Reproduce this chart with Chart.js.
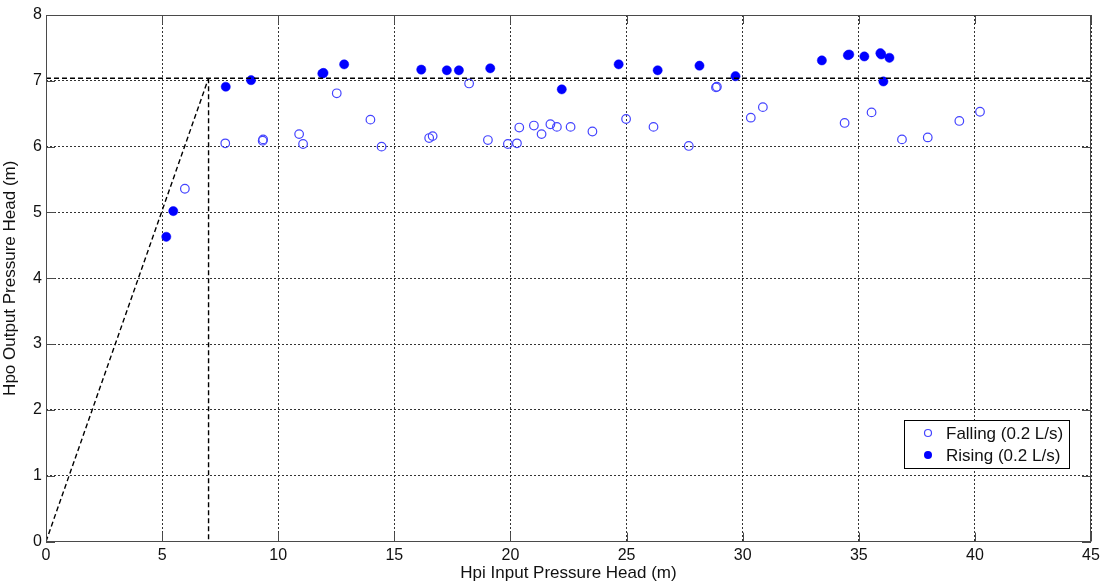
<!DOCTYPE html>
<html>
<head>
<meta charset="utf-8">
<title>Hpo vs Hpi</title>
<script src="https://cdn.jsdelivr.net/npm/chart.js@4.4.1/dist/chart.umd.min.js"></script>
<style>
  html, body { margin: 0; padding: 0; background: #fff; }
  #wrap { width: 1108px; height: 585px; position: relative; }
</style>
</head>
<body>
<div id="wrap"><canvas id="pressureChart"></canvas></div>
<script>
// Falling runs (0.2 L/s)
const fallingHpi = [5.98, 7.72, 9.33, 9.35, 10.90, 11.07, 12.52, 13.97, 14.45, 16.50, 16.65, 18.22,
  19.03, 19.89, 20.28, 20.38, 21.01, 21.34, 21.72, 22.00, 22.59, 23.53, 24.98, 26.16, 27.68,
  28.85, 28.89, 30.35, 30.87, 34.39, 35.55, 36.86, 37.97, 39.33, 40.22];
const fallingHpo = [5.36, 6.05, 6.09, 6.11, 6.19, 6.04, 6.81, 6.41, 6.00, 6.13, 6.16, 6.96,
  6.10, 6.04, 6.05, 6.29, 6.32, 6.19, 6.34, 6.30, 6.30, 6.23, 6.42, 6.30, 6.01,
  6.90, 6.91, 6.44, 6.60, 6.36, 6.52, 6.11, 6.14, 6.39, 6.53];

// Rising runs (0.2 L/s)
const risingHpi = [5.18, 5.48, 7.74, 8.83, 11.90, 11.95, 12.84, 16.16, 17.26, 17.78, 19.13, 22.21,
  24.66, 26.34, 28.14, 29.69, 33.41, 34.53, 34.59, 35.24, 35.93, 35.97, 36.06, 36.32];
const risingHpo = [4.63, 5.02, 6.91, 7.01, 7.11, 7.12, 7.25, 7.17, 7.16, 7.16, 7.19, 6.87,
  7.25, 7.16, 7.23, 7.07, 7.31, 7.39, 7.40, 7.37, 7.42, 7.40, 6.99, 7.35];

// PRV set point and the ideal Hpo = Hpi response below it
const setPointHpi = 7;
const setPointHpo = 7.04;
const hpiRange = [0, 45];
const hpoRange = [0, 8];
const xTickStep = 5;
const yTickStep = 1;

const FONT = "'Liberation Sans', Arial, sans-serif";

function toPoints(xs, ys) {
  return xs.map((x, i) => ({ x: x, y: ys[i] }));
}

const refLine = {
  type: 'line',
  showLine: true,
  pointRadius: 0,
  borderColor: '#000',
  borderWidth: 1.4,
  borderDash: [5, 3],
  fill: false,
  inLegend: false
};

// Draws the closed axes box, inward tick marks and the boxed legend
const axesBox = {
  id: 'axesBox',
  afterDraw(chart) {
    const { ctx, chartArea: a, scales } = chart;
    const xs = scales.x, ys = scales.y;
    ctx.save();
    ctx.strokeStyle = '#4a4a4a';
    ctx.lineWidth = 1;
    ctx.strokeRect(Math.round(a.left) + 0.5, Math.round(a.top) + 0.5,
      Math.round(a.width) - 1, Math.round(a.height) - 1);

    const tl = 9;
    ctx.beginPath();
    xs.ticks.forEach(t => {
      const px = Math.round(xs.getPixelForValue(t.value)) + 0.5;
      ctx.moveTo(px, a.bottom); ctx.lineTo(px, a.bottom - tl);
      ctx.moveTo(px, a.top); ctx.lineTo(px, a.top + tl);
    });
    ys.ticks.forEach(t => {
      const py = Math.round(ys.getPixelForValue(t.value)) + 0.5;
      ctx.moveTo(a.left, py); ctx.lineTo(a.left + tl, py);
      ctx.moveTo(a.right, py); ctx.lineTo(a.right - tl, py);
    });
    ctx.stroke();

    // legend inside the lower right corner
    const items = chart.data.datasets.filter(d => d.inLegend);
    ctx.font = '17px ' + FONT;
    const textW = Math.max(...items.map(d => ctx.measureText(d.label).width));
    const rowH = 22;
    const boxW = Math.round(42 + textW + 6);
    const boxH = items.length * rowH + 4;
    const bx = Math.round(a.right - 22 - boxW);
    const by = Math.round(a.bottom - 74 - boxH);
    ctx.fillStyle = '#fff';
    ctx.fillRect(bx, by, boxW, boxH);
    ctx.strokeStyle = '#000';
    ctx.strokeRect(bx + 0.5, by + 0.5, boxW, boxH);
    items.forEach((d, i) => {
      const cy = by + 13 + i * rowH;
      ctx.beginPath();
      ctx.arc(bx + 24, cy, d.legendRadius, 0, Math.PI * 2);
      if (d.filled) {
        ctx.fillStyle = d.backgroundColor;
        ctx.fill();
      } else {
        ctx.strokeStyle = d.borderColor;
        ctx.lineWidth = 1.2;
        ctx.stroke();
      }
      ctx.fillStyle = '#111';
      ctx.textBaseline = 'middle';
      ctx.textAlign = 'left';
      ctx.fillText(d.label, bx + 42, cy + 1);
    });
    ctx.restore();
  }
};

new Chart(document.getElementById('pressureChart'), {
  type: 'scatter',
  data: {
    datasets: [
      Object.assign({}, refLine, {
        label: 'Hpo = Hpi',
        data: toPoints([0, setPointHpi], [0, setPointHpo])
      }),
      Object.assign({}, refLine, {
        label: 'Set point Hpi',
        data: toPoints([setPointHpi, setPointHpi], [setPointHpo, 0])
      }),
      Object.assign({}, refLine, {
        label: 'Set point Hpo',
        data: toPoints(hpiRange, [setPointHpo, setPointHpo])
      }),
      {
        label: 'Falling (0.2 L/s)',
        data: toPoints(fallingHpi, fallingHpo),
        pointStyle: 'circle',
        pointRadius: 4.3,
        borderWidth: 1.2,
        borderColor: '#4545ff',
        backgroundColor: 'rgba(0,0,0,0)',
        inLegend: true,
        filled: false,
        legendRadius: 3.5
      },
      {
        label: 'Rising (0.2 L/s)',
        data: toPoints(risingHpi, risingHpo),
        pointStyle: 'circle',
        pointRadius: 4.6,
        borderWidth: 0.5,
        borderColor: '#0000ff',
        backgroundColor: '#0000ff',
        inLegend: true,
        filled: true,
        legendRadius: 4
      }
    ]
  },
  options: {
    responsive: true,
    maintainAspectRatio: false,
    animation: false,
    events: [],
    layout: { padding: { top: 15, right: 17, left: 0, bottom: 0 } },
    plugins: {
      legend: { display: false },
      tooltip: { enabled: false },
      title: { display: false }
    },
    scales: {
      x: {
        type: 'linear',
        min: hpiRange[0],
        max: hpiRange[1],
        afterFit: s => { s.height = 43.5; },
        ticks: {
          stepSize: xTickStep,
          color: '#111',
          padding: 4,
          maxRotation: 0,
          font: { family: FONT, size: 16 }
        },
        grid: { color: '#333', drawTicks: false, lineWidth: 1 },
        border: { display: false, dash: [2, 2] },
        title: {
          display: true,
          text: 'Hpi Input Pressure Head (m)',
          color: '#111',
          padding: { top: 0, bottom: 1 },
          font: { family: FONT, size: 17 }
        }
      },
      y: {
        type: 'linear',
        min: hpoRange[0],
        max: hpoRange[1],
        afterFit: s => { s.width = 46; },
        ticks: {
          stepSize: yTickStep,
          color: '#111',
          padding: 4,
          font: { family: FONT, size: 16 }
        },
        grid: { color: '#333', drawTicks: false, lineWidth: 1 },
        border: { display: false, dash: [2, 2] },
        title: {
          display: true,
          text: 'Hpo Output Pressure Head (m)',
          color: '#111',
          padding: { top: 0, bottom: 0 },
          font: { family: FONT, size: 17 }
        }
      }
    }
  },
  plugins: [axesBox]
});
</script>
</body>
</html>
